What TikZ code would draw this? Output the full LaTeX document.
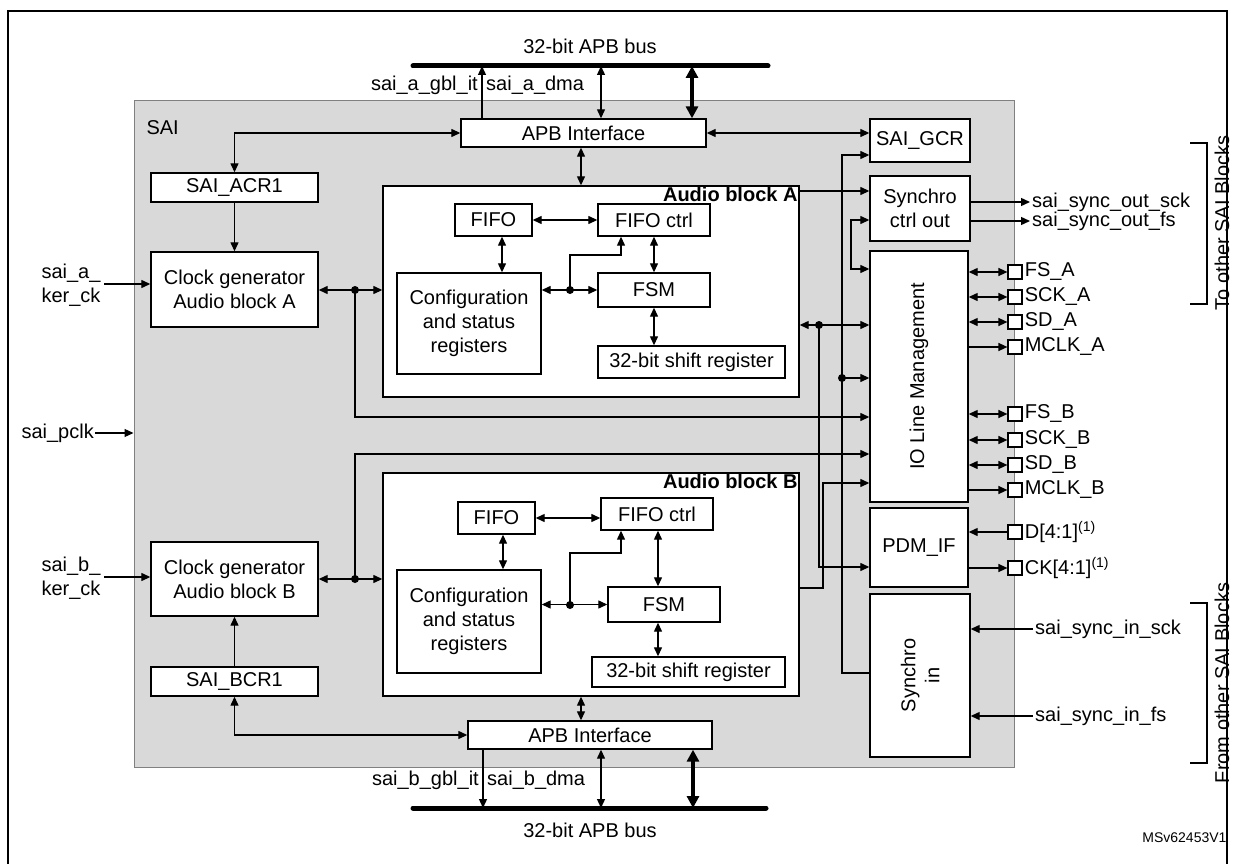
\documentclass[tikz,border=0pt]{standalone}
\usepackage{fontspec}
\setmainfont{Liberation Sans}
\usetikzlibrary{arrows.meta, positioning}
\tikzset{
    box/.style={draw, fill=white, line width=1.4pt, inner sep=1pt, align=center}, % register and logic blocks
    arr/.style={line width=1.3pt, -{Triangle[length=9pt, width=8pt]}}, % one way signal
    dbl/.style={line width=1.3pt, {Triangle[length=9pt, width=8pt]}-{Triangle[length=9pt, width=8pt]}}, % two way signal
    bus/.style={line width=5pt, line cap=round}, % APB bus
    busarr/.style={line width=3.5pt, {Triangle[length=12pt, width=12pt]}-{Triangle[length=12pt, width=12pt]}},
    dot/.style={circle, fill, inner sep=0pt, minimum size=8pt},
    pin/.style={draw, fill=white, line width=1.2pt, minimum size=14pt, inner sep=0pt},
}
\begin{document}
\begin{tikzpicture}[x=1pt, y=-1pt, font=\fontsize{20}{24}\selectfont]
    \useasboundingbox (0,0) rectangle (1235,864);
    \draw[line width=1.5pt] (8,880) -- (8,11) -- (1227,11) -- (1227,880);

    % SAI area
    \node[draw=gray, fill=gray!30, line width=1pt, minimum width=880, minimum height=666] (sai) at (574,434) {};
    \node[anchor=west] at (143,128) {SAI};

    % buses
    \coordinate (busA1) at (413,66);  \coordinate (busA2) at (768,66);
    \coordinate (busB1) at (413,808); \coordinate (busB2) at (766,808);
    \draw[bus] (busA1) -- (busA2);
    \draw[bus] (busB1) -- (busB2);
    \node at (590,46) {32-bit APB bus};
    \node at (590,830) {32-bit APB bus};

    % blocks
    \node[box, minimum width=245, minimum height=28] (apbA) at (583.5,133) {APB Interface};
    \node[box, minimum width=244, minimum height=28] (apbB) at (590,735) {APB Interface};
    \node[box, minimum width=100, minimum height=43] (gcr) at (920,140.5) {SAI\_GCR};
    \node[box, minimum width=167, minimum height=29] (acrA) at (234.5,187.5) {SAI\_ACR1};
    \node[box, minimum width=167, minimum height=75] (clkA) at (234.5,289.5) {Clock generator\\Audio block A};
    \node[box, minimum width=167, minimum height=74] (clkB) at (234.5,579) {Clock generator\\Audio block B};
    \node[box, minimum width=167, minimum height=29] (bcr) at (234.5,681.5) {SAI\_BCR1};

    \node[box, minimum width=416, minimum height=211] (audA) at (591,291.5) {};
    \node[anchor=north east, font=\fontsize{20}{24}\selectfont\bfseries, inner sep=2pt] at (audA.north east) {Audio block A};
    \node[box, minimum width=77, minimum height=32] (fifoA) at (493.5,220) {FIFO};
    \node[box, minimum width=112, minimum height=32] (fctlA) at (654,220) {FIFO ctrl};
    \node[box, minimum width=144, minimum height=101] (cfgA) at (469,323.5) {Configuration\\and status\\registers};
    \node[box, minimum width=112, minimum height=34] (fsmA) at (654,290) {FSM};
    \node[box, minimum width=187, minimum height=32] (shA) at (691.5,362) {32-bit shift register};

    \node[box, minimum width=416, minimum height=223] (audB) at (591,584.5) {};
    \node[anchor=north east, font=\fontsize{20}{24}\selectfont\bfseries, inner sep=2pt] at (audB.north east) {Audio block B};
    \node[box, minimum width=77, minimum height=32] (fifoB) at (496.5,518) {FIFO};
    \node[box, minimum width=112, minimum height=32] (fctlB) at (657,514) {FIFO ctrl};
    \node[box, minimum width=144, minimum height=103] (cfgB) at (469,621.5) {Configuration\\and status\\registers};
    \node[box, minimum width=112, minimum height=35] (fsmB) at (664,604.5) {FSM};
    \node[box, minimum width=193, minimum height=30] (shB) at (688.5,672) {32-bit shift register};

    \node[box, minimum width=100, minimum height=65] (syncout) at (920,208.5) {Synchro\\ctrl out};
    \node[box, minimum width=98, minimum height=251] (io) at (919,376.5) {};
    \node[rotate=90] at (io.center) {IO Line Management};
    \node[box, minimum width=98, minimum height=79] (pdm) at (919,547.5) {PDM\_IF};
    \node[box, minimum width=100, minimum height=163] (syncin) at (920,675.5) {};
    \node[rotate=90, align=center] at (syncin.center) {Synchro\\in};

    % bus side
    \draw[arr] (apbA.north -| 482,0) -- (busA1 -| 482,0);
    \draw[dbl] (apbA.north -| 601,0) -- (busA1 -| 601,0);
    \draw[busarr] (apbA.north -| 692,0) -- (busA1 -| 692,0);
    \node[anchor=east, inner sep=2pt] at (480,85) {sai\_a\_gbl\_it};
    \node[anchor=west, inner sep=2pt] at (484,85) {sai\_a\_dma};
    \draw[arr] (apbB.south -| 483,0) -- (busB1 -| 483,0);
    \draw[dbl] (apbB.south -| 601,0) -- (busB1 -| 601,0);
    \draw[busarr] (apbB.south -| 693,0) -- (busB1 -| 693,0);
    \node[anchor=east, inner sep=2pt] at (481,780) {sai\_b\_gbl\_it};
    \node[anchor=west, inner sep=2pt] at (485,780) {sai\_b\_dma};

    % clocks
    \node[anchor=east, align=left] (kerA) at (104,285) {sai\_a\_\\ker\_ck};
    \node[anchor=east, align=left] (kerB) at (104,578) {sai\_b\_\\ker\_ck};
    \node[anchor=east, inner sep=1pt] (pclk) at (95,433) {sai\_pclk};
    \draw[arr] (kerA.east |- 0,284) -- (clkA.west |- 0,284);
    \draw[arr] (kerB.east |- 0,577) -- (clkB.west |- 0,577);
    \draw[arr] (pclk.east) -- (sai.west |- pclk.east);

    % register and interface links
    \draw[dbl] (apbA.west) -| (acrA.north);
    \draw[arr] (acrA) -- (clkA);
    \draw[dbl] (apbB.west) -| (bcr.south);
    \draw[arr] (bcr) -- (clkB);
    \draw[dbl] (apbA.south -| 581,0) -- (audA.north -| 581,0);
    \draw[dbl] (audB.south -| 581,0) -- (apbB.north -| 581,0);
    \draw[dbl] (apbA.east) -- (gcr.west |- apbA.east);

    % audio block A inside
    \coordinate (jC) at (570,290);
    \draw[dbl] (fifoA) -- (fctlA);
    \draw[dbl] (fifoA.south -| 502,0) -- (cfgA.north -| 502,0);
    \draw[dbl] (cfgA.east |- fsmA) -- (fsmA.west);
    \draw[arr] (jC) |- (621,255) -- (fctlA.south -| 621,0);
    \draw[dbl] (fctlA) -- (fsmA);
    \draw[dbl] (fsmA.south) -- (fsmA.south |- shA.north);
    \node[dot] at (jC) {};

    % audio block B inside
    \coordinate (jD) at (570,605);
    \draw[dbl] (fifoB.east) -- (fctlB.west |- fifoB.east);
    \draw[dbl] (fifoB.south -| 503,0) -- (cfgB.north -| 503,0);
    \draw[dbl] (cfgB.east |- fsmB) -- (fsmB.west);
    \draw[arr] (jD) |- (621,553) -- (fctlB.south -| 621,0);
    \draw[dbl] (fctlB.south -| 658,0) -- (fsmB.north -| 658,0);
    \draw[dbl] (fsmB.south -| 658,0) -- (shB.north -| 658,0);
    \node[dot] at (jD) {};

    % clock generators to audio blocks and IO
    \coordinate (jA) at (355,290);
    \coordinate (jB) at (355,579);
    \draw[dbl] (clkA.east |- jA) -- (audA.west |- jA);
    \draw[arr] (jA) |- (io.west |- 0,417);
    \draw[dbl] (clkB.east |- jB) -- (audB.west |- jB);
    \draw[arr] (jB) |- (io.west |- 0,454);
    \node[dot] at (jA) {};
    \node[dot] at (jB) {};

    % right side links
    \coordinate (jR) at (819,325);
    \coordinate (jS) at (842,378);
    \draw[arr] (audA.east |- 0,191) -- (syncout.west |- 0,191);
    \draw[dbl] (syncout.west |- 0,220) -- (851,220) -- (851,269) -- (io.west |- 0,269);
    \draw[dbl] (audA.east |- jR) -- (io.west |- jR);
    \draw[arr] (jR) |- (pdm.west |- 0,567);
    \draw[arr] (syncin.west |- 0,673) -| (842,155) -- (gcr.west |- 0,155);
    \draw[arr] (jS) -- (io.west |- jS);
    \draw[arr] (audB.east |- 0,588) -| (823,483) -- (io.west |- 0,483);
    \node[dot] at (jR) {};
    \node[dot] at (jS) {};

    % pins
    \foreach \nm/\y/\txt in {FSA/272/FS\_A, SCKA/297/SCK\_A, SDA/322/SD\_A, FSB/414/FS\_B, SCKB/440/SCK\_B, SDB/465/SD\_B}{
        \node[pin] (p\nm) at (1015,\y) {};
        \node[anchor=west, inner sep=2pt] at (p\nm.east) {\txt};
        \draw[dbl] (io.east |- p\nm) -- (p\nm.west);
    }
    \foreach \nm/\y/\txt in {MCLKA/347/MCLK\_A, MCLKB/490/MCLK\_B}{
        \node[pin] (p\nm) at (1015,\y) {};
        \node[anchor=west, inner sep=2pt] at (p\nm.east) {\txt};
        \draw[arr] (io.east |- p\nm) -- (p\nm.west);
    }
    \node[pin] (pD) at (1015,532) {};
    \node[anchor=west, inner sep=2pt] at (pD.east) {D[4:1]\textsuperscript{(1)}};
    \draw[arr] (pD.west) -- (pdm.east |- pD);
    \node[pin] (pCK) at (1015,568) {};
    \node[anchor=west, inner sep=2pt] at (pCK.east) {CK[4:1]\textsuperscript{(1)}};
    \draw[arr] (pdm.east |- pCK) -- (pCK.west);

    % synchro signals
    \node[anchor=west, inner sep=2pt] (soS) at (1030,202) {sai\_sync\_out\_sck};
    \node[anchor=west, inner sep=2pt] (soF) at (1030,221) {sai\_sync\_out\_fs};
    \draw[arr] (syncout.east |- soS) -- (soS.west);
    \draw[arr] (syncout.east |- soF) -- (soF.west);
    \node[anchor=west, inner sep=2pt] (siS) at (1033,629) {sai\_sync\_in\_sck};
    \node[anchor=west, inner sep=2pt] (siF) at (1033,716) {sai\_sync\_in\_fs};
    \draw[arr] (siS.west) -- (syncin.east |- siS);
    \draw[arr] (siF.west) -- (syncin.east |- siF);

    % brackets
    \draw[line width=1.5pt] (1190,143) -- (1207,143) -- (1207,304) -- (1190,304);
    \node[rotate=90] at (1222,223) {To other SAI Blocks};
    \draw[line width=1.5pt] (1190,603) -- (1207,603) -- (1207,763) -- (1190,763);
    \node[rotate=90] at (1222,683) {From other SAI Blocks};
    \node[anchor=east, font=\fontsize{14}{16}\selectfont] at (1230,838) {MSv62453V1};
\end{tikzpicture}
\end{document}
